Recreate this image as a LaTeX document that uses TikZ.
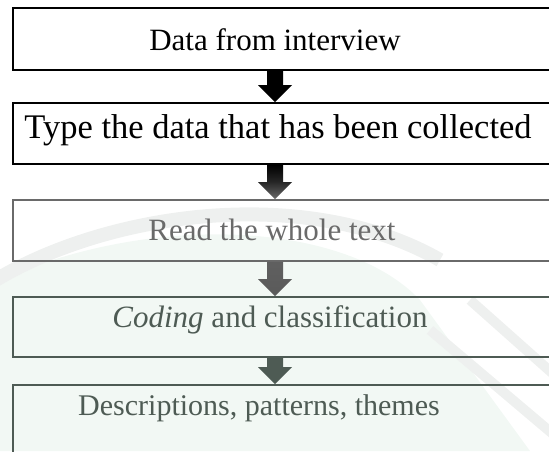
\documentclass[tikz,border=0pt]{standalone}
\usepackage{fontspec}
\setmainfont{Liberation Serif}
\usetikzlibrary{calc}
\definecolor{stepgrey}{HTML}{6A6A6A}
\definecolor{stepgreen}{HTML}{4E5B54}
\definecolor{mintbg}{HTML}{F2F8F4}
\definecolor{markgrey}{HTML}{EEF0EF}
\tikzset{
  stepbox/.style={rectangle, minimum width=580pt, inner sep=0pt, anchor=north west, line width=1.8pt},
  steptext/.style={anchor=base, inner sep=0pt, font=\fontsize{31}{36}\selectfont},
}
% block arrow from the bottom of one box to the top of the next
\newcommand\blockarrow[3]{%
  \path[#3] let \p1=(#1), \p2=(#2) in
    ({\x1-8pt},\y1) -- ({\x1+8pt},\y1) -- ({\x1+8pt},{\y2+17pt}) --
    ({\x1+17pt},{\y2+17pt}) -- (\x1,\y2) -- ({\x1-17pt},{\y2+17pt}) --
    ({\x1-8pt},{\y2+17pt}) -- cycle;}
\begin{document}
\begin{tikzpicture}[x=1pt,y=-1pt]
\useasboundingbox (0,0) rectangle (549,451);
\begin{scope}
\clip (0,0) rectangle (549,451);
% faint background emblem
\fill[mintbg] (-40,300) .. controls (120,210) and (340,215) .. (420,300) -- (530,451) -- (-40,451) -- cycle;
\draw[markgrey, line width=14pt] (-20,290) .. controls (90,215) and (300,180) .. (440,260);
\draw[markgrey, line width=10pt] (430,330) -- (560,440);
\draw[markgrey, line width=10pt] (470,300) -- (560,380);

% boxes
\node[stepbox, draw=black, minimum height=62pt] (b1) at (12,7) {};
\node[stepbox, draw=black, minimum height=61pt] (b2) at (12,102) {};
\node[stepbox, draw=stepgrey, minimum height=61pt] (b3) at (12,199) {};
\node[stepbox, draw=stepgreen, minimum height=60pt] (b4) at (12,296) {};
\node[stepbox, draw=stepgreen, minimum height=90pt] (b5) at (12,384) {};

% labels
\node[steptext] (t1) at (275,50) {Data from interview};
\node[steptext, font=\fontsize{34.5}{40}\selectfont] (t2) at (278,138) {Type the data that has been collected};
\node[steptext, text=stepgrey] (t3) at (272,240) {Read the whole text};
\node[steptext, text=stepgreen] (t4) at (270,327) {\textit{Coding} and classification};
\node[steptext, text=stepgreen, font=\fontsize{30}{36}\selectfont] (t5) at (259,415) {Descriptions, patterns, themes};

% arrows
\coordinate (ax) at (275,0);
\blockarrow{ax |- b1.south}{ax |- b2.north}{fill=black}
\blockarrow{ax |- b2.south}{ax |- b3.north}{top color=black, bottom color=stepgrey, middle color=black!85}
\blockarrow{ax |- b3.south}{ax |- b4.north}{top color=stepgrey!90!black, bottom color=stepgrey!85!black}
\blockarrow{ax |- b4.south}{ax |- b5.north}{fill=stepgreen}
\end{scope}
\end{tikzpicture}
\end{document}
